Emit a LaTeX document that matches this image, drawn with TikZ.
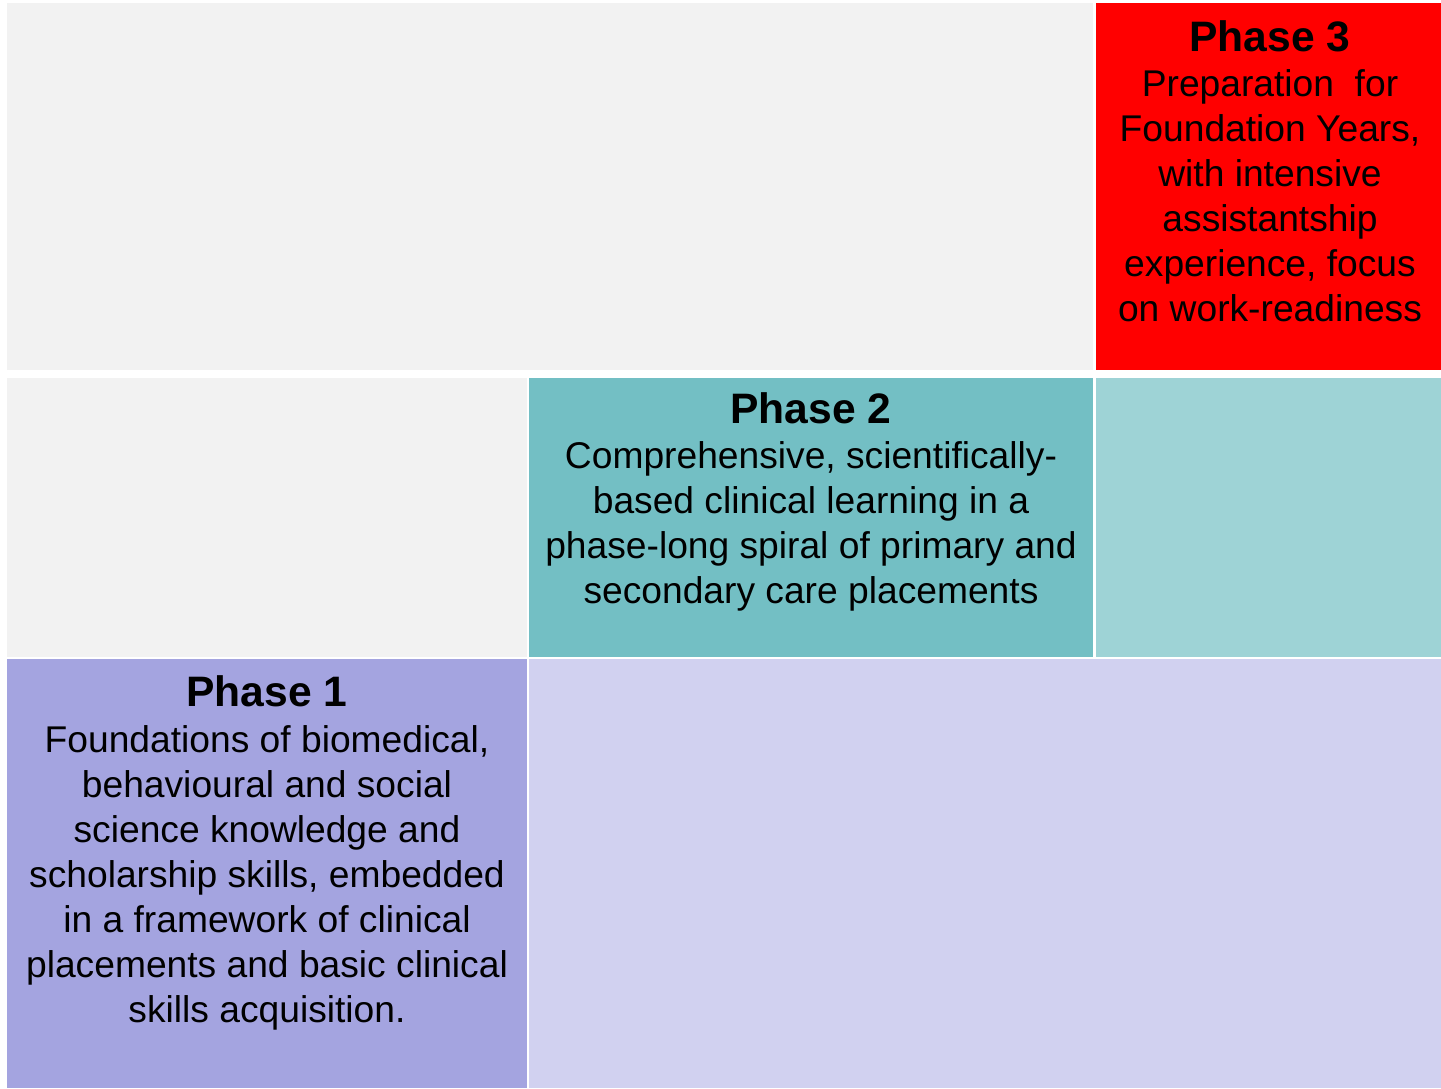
\documentclass[tikz,border=0pt]{standalone}
\usepackage{fontspec}
\setmainfont{Liberation Sans}
\definecolor{cgrey}{HTML}{F2F2F2}
\definecolor{cred}{HTML}{FF0000}
\definecolor{cteal}{HTML}{73BFC4}
\definecolor{clteal}{HTML}{9ED3D6}
\definecolor{cpurple}{HTML}{A4A4E0}
\definecolor{clpurple}{HTML}{D1D1F0}
\tikzset{
  title/.style={anchor=base, inner sep=0pt, font=\fontsize{21.3}{25}\selectfont\bfseries},
  body/.style={anchor=base, inner sep=0pt, font=\fontsize{18.6}{22}\selectfont},
}
\begin{document}
\begin{tikzpicture}[x=0.5pt,y=-0.5pt]
\useasboundingbox[fill=white] (0,0) rectangle (1441,1088);
% row 1
\fill[cgrey] (7,3) rectangle (1093,370);
\fill[cred] (1096,3) rectangle (1441,370);
% row 2
\fill[cgrey] (7,378) rectangle (527,657);
\fill[cteal] (529,378) rectangle (1093,657);
\fill[clteal] (1096,378) rectangle (1441,657);
% row 3
\fill[cpurple] (7,659) rectangle (527,1088);
\fill[clpurple] (529,659) rectangle (1441,1088);
% Phase 3
\node[title] (t3) at (1270,51) {Phase 3};
\foreach \t [count=\i from 0] in {Preparation\ \ for, {Foundation Years,}, with intensive, assistantship, {experience, focus}, on work-readiness}
  \node[body] (p3l\i) at (1270,96+45*\i) {\t};
% Phase 2
\node[title] (t2) at (811,423) {Phase 2};
\foreach \t [count=\i from 0] in {{Comprehensive, scientifically-}, based clinical learning in a, phase-long spiral of primary and, secondary care placements}
  \node[body] (p2l\i) at (811,468+45*\i) {\t};
% Phase 1
\node[title] (t1) at (267,706) {Phase 1};
\foreach \t [count=\i from 0] in {{Foundations of biomedical,}, behavioural and social, science knowledge and, {scholarship skills, embedded}, in a framework of clinical, placements and basic clinical, skills acquisition.}
  \node[body] (p1l\i) at (267,752+45*\i) {\t};
\end{tikzpicture}
\end{document}
